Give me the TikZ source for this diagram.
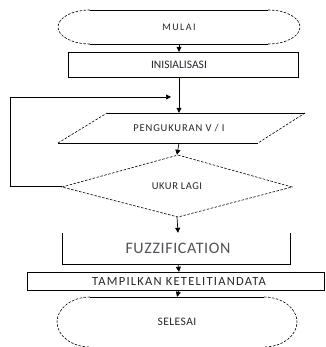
\documentclass[tikz,border=0pt]{standalone}
\usepackage{fontspec}
\setmainfont{Carlito}
\usetikzlibrary{arrows.meta}
\definecolor{txt}{HTML}{26262E}
\tikzset{
  shapeline/.style={line width=0.7pt, black},
  dashline/.style={line width=0.6pt, black, dash pattern=on 2.5pt off 1.5pt},
  lbl/.style={inner sep=0pt, text=txt},
  flow/.style={line width=0.7pt, -{Triangle[width=5pt,length=5pt]}},
}
\begin{document}
\begin{tikzpicture}[x=1pt,y=-1pt]
\useasboundingbox (0,0) rectangle (325,347);
\clip (0,0) rectangle (325,347);
% MULAI terminal
\draw[shapeline] (90,10) -- (268,10) (90,44) -- (268,44);
\draw[dashline] (90,10) arc[start angle=-90, end angle=-270, x radius=32, y radius=17];
\draw[dashline] (268,10) arc[start angle=-90, end angle=90, x radius=32, y radius=17];
\node[lbl, minimum width=242pt, minimum height=34pt] (mulai) at (179,27)
  {\fontsize{10}{11}\selectfont\addfontfeatures{LetterSpace=15}MULAI};
% INISIALISASI
\draw[shapeline] (68,52) rectangle (298,77);
\node[lbl, minimum width=230pt, minimum height=25pt] (inis) at (179,64.5)
  {\fontsize{11.5}{12}\selectfont INISIALISASI};
% PENGUKURAN parallelogram
\draw[shapeline] (107,113) -- (305,113) (258,143) -- (58,143);
\draw[dashline] (305,113) -- (258,143) (58,143) -- (107,113);
\node[lbl, minimum width=150pt, minimum height=30pt] (ukur) at (179,128)
  {\fontsize{10.5}{11}\selectfont\addfontfeatures{LetterSpace=8}PENGUKURAN V / I};
% UKUR LAGI diamond
\draw[dashline] (178,155) -- (292,187) -- (178,217) -- (62,187) -- cycle;
\node[lbl, minimum width=230pt, minimum height=62pt] (lagi) at (177,186)
  {\fontsize{10.5}{11}\selectfont\addfontfeatures{LetterSpace=5}UKUR LAGI};
% FUZZIFICATION
\draw[shapeline] (62,233) -- (62,264) -- (290,264) -- (290,233);
\node[lbl, text=txt!80!white, minimum width=228pt, minimum height=31pt] (fuzz) at (178,248.5)
  {\fontsize{16}{17}\selectfont\addfontfeatures{LetterSpace=4}FUZZIFICATION};
% TAMPILKAN
\draw[shapeline] (27,272) rectangle (324.6,290);
\node[lbl, minimum width=150pt, minimum height=18pt] (tampil) at (179,281)
  {\fontsize{12.5}{13}\selectfont\addfontfeatures{LetterSpace=10}TAMPILKAN KETELITIANDATA};
% SELESAI terminal
\draw[shapeline] (90,297) -- (264,297);
\draw[dashline] (90,297) arc[start angle=-90, end angle=-270, x radius=33, y radius=25];
\draw[dashline] (264,297) arc[start angle=-90, end angle=90, x radius=33, y radius=25];
\draw[dashline] (90,347) -- (264,347);
\node[lbl, minimum width=240pt, minimum height=50pt] (selesai) at (177,322)
  {\fontsize{11.5}{12}\selectfont\addfontfeatures{LetterSpace=4}SELESAI};
% connectors
\draw[flow] (mulai.south) -- (inis.north);
\draw[flow] (inis.south) -- (ukur.north);
\draw[flow] (ukur.south) -- (lagi.north);
\coordinate (loopend) at (171,97);
\draw[flow] (lagi.west) -- (10,186) -- (10,97) -- (loopend);
\draw[flow] (lagi.south) -- (fuzz.north);
\draw[flow] (fuzz.south) -- (tampil.north);
\draw[flow] (tampil.south) -- (selesai.north);
\end{tikzpicture}
\end{document}
